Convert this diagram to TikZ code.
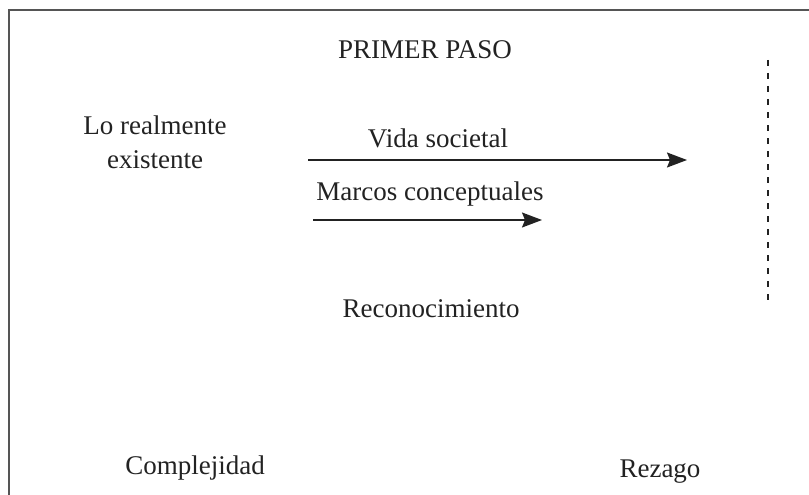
\documentclass[tikz,border=0pt]{standalone}
\usepackage{fontspec}
\setmainfont{Liberation Serif}
\usetikzlibrary{arrows.meta}
\definecolor{Ink}{HTML}{222222}
\definecolor{Frame}{HTML}{555555}

\tikzset{
  label text/.style={font=\fontsize{27}{32}\selectfont, text=Ink, inner sep=0pt},
  flow arrow/.style={Ink, line width=1.4pt, -{Stealth[length=20pt, width=15pt, inset=3pt]}}
}

\begin{document}
\begin{tikzpicture}[x=1pt, y=-1pt]
  \useasboundingbox (0,0) rectangle (809,495);
  \draw[Frame, line width=1.8pt] (9,495) -- (9,10) -- (809,10);

  \node[label text] (paso) at (425,50) {PRIMER PASO};
  \node[label text, align=center] (real) at (155,142) {Lo realmente\\[2pt]existente};

  \coordinate (vidaA) at (308,160);
  \coordinate (vidaB) at (687,160);
  \draw[flow arrow] (vidaA) -- (vidaB);
  \node[label text] (vida) at (438,138) {Vida societal};

  \coordinate (marcoA) at (313,220);
  \coordinate (marcoB) at (542,220);
  \draw[flow arrow] (marcoA) -- (marcoB);
  \node[label text] (marco) at (430,194) {Marcos conceptuales};

  \node[label text] (recon) at (431,309) {Reconocimiento};
  \node[label text] (compl) at (195,468) {Complejidad};
  \node[label text] (rezago) at (660,472) {Rezago};

  \coordinate (lineTop) at (768,60);
  \coordinate (lineBot) at (768,306);
  \draw[Ink, line width=1.6pt, dash pattern=on 6pt off 7pt] (lineTop) -- (lineBot);
\end{tikzpicture}
\end{document}
